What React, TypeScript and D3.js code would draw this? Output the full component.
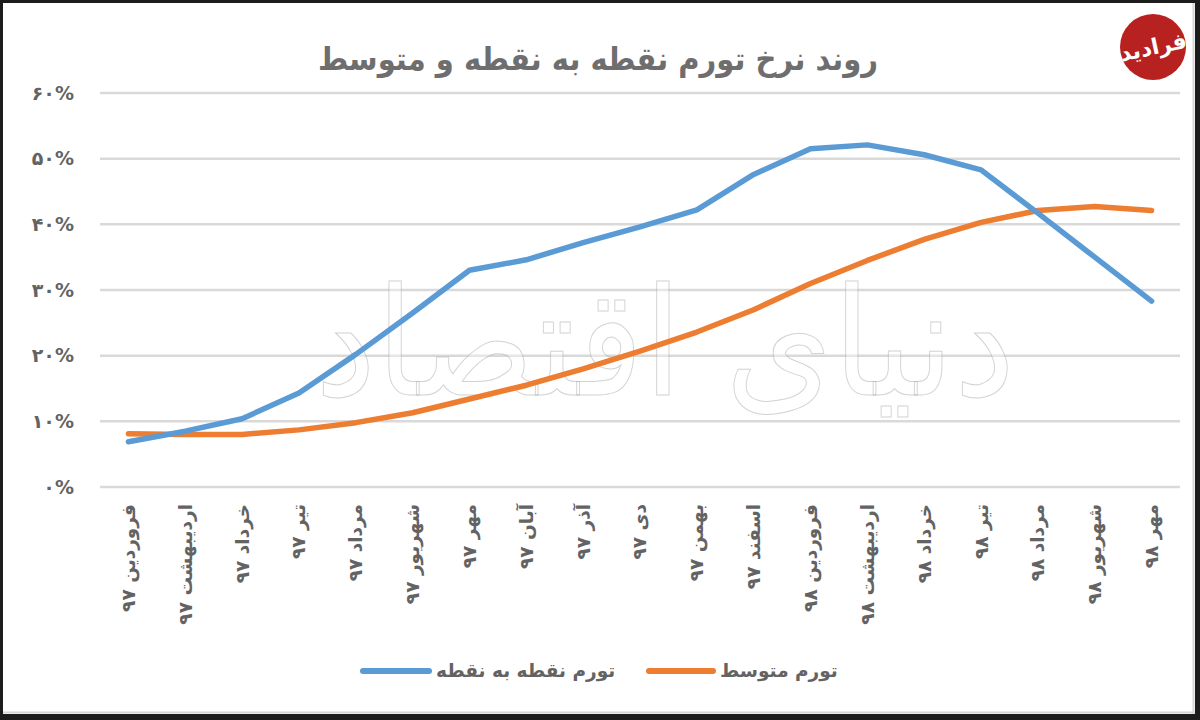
import React from "react";
import * as d3 from "d3";

const categories = [
  "فروردین ۹۷", "اردیبهشت ۹۷", "خرداد ۹۷", "تیر ۹۷", "مرداد ۹۷", "شهریور ۹۷",
  "مهر ۹۷", "آبان ۹۷", "آذر ۹۷", "دی ۹۷", "بهمن ۹۷", "اسفند ۹۷",
  "فروردین ۹۸", "اردیبهشت ۹۸", "خرداد ۹۸", "تیر ۹۸", "مرداد ۹۸", "شهریور ۹۸", "مهر ۹۸",
];

const pointToPoint = [6.9, 8.5, 10.4, 14.3, 20.2, 26.5, 33.0, 34.6, 37.2, 39.6, 42.2, 47.6, 51.5, 52.1, 50.6, 48.3, 41.7, 35.0, 28.3];
const average = [8.1, 8.0, 8.0, 8.7, 9.8, 11.3, 13.4, 15.5, 18.0, 20.7, 23.6, 27.0, 31.0, 34.5, 37.7, 40.3, 42.1, 42.7, 42.1];

const yTicks = [0, 10, 20, 30, 40, 50, 60];
const yTickLabels = ["۰%", "۱۰%", "۲۰%", "۳۰%", "۴۰%", "۵۰%", "۶۰%"];

const title = "روند نرخ تورم نقطه به نقطه و متوسط";
const seriesNames = ["تورم نقطه به نقطه", "تورم متوسط"];
const watermark = "دنیای اقتصاد";
const logoText = "فرادید";

const W = 1200;
const H = 720;
const FONT = "'DejaVu Sans', 'Noto Sans', sans-serif";
const BLUE = "#5B9BD5";
const ORANGE = "#ED7D31";
const TEXT = "#636363";

export default function App() {
  const x = d3.scalePoint<string>().domain(categories).range([100, 1180]).padding(0.5);
  const y = d3.scaleLinear().domain([0, 60]).range([487, 93]);

  const line = d3
    .line<number>()
    .x((_, i) => x(categories[i]) as number)
    .y((d) => y(d))
    .curve(d3.curveLinear);

  return (
    <div style={{ position: "fixed", left: 0, top: 0, width: W, height: H }}>
      <svg width={W} height={H} viewBox={`0 0 ${W} ${H}`} style={{ display: "block" }}>
        <rect x={0} y={0} width={W} height={H} fill="#1c1c1c" />
        <rect x={3} y={3} width={1192} height={711} fill="#ffffff" />
        <line x1={3} x2={1195} y1={712.5} y2={712.5} stroke="#d6d6d6" strokeWidth={2} />
        <line x1={1193.5} x2={1193.5} y1={3} y2={714} stroke="#d6d6d6" strokeWidth={2} />

        {/* title */}
        <text x={598} y={70} textAnchor="middle" fontFamily={FONT} fontWeight="bold" fontSize={32} fill="#6e6e6e" textLength={560} lengthAdjust="spacingAndGlyphs">
          {title}
        </text>

        {/* logo */}
        <circle cx={1153} cy={47} r={33} fill="#b7211f" />
        <text x={1153} y={47} dy="0.35em" textAnchor="middle" fontFamily={FONT} fontWeight="bold" fontSize={22} fill="#ffffff" transform="rotate(-12 1153 47)">
          {logoText}
        </text>

        {/* gridlines */}
        {yTicks.map((t) => (
          <line key={t} x1={100} x2={1180} y1={y(t)} y2={y(t)} stroke="#d9d9d9" strokeWidth={2.5} />
        ))}

        {/* y labels */}
        {yTicks.map((t, i) => (
          <text key={t} x={74} y={y(t)} dy="0.35em" textAnchor="end" fontFamily={FONT} fontWeight="bold" fontSize={19} fill={TEXT}>
            {yTickLabels[i]}
          </text>
        ))}

        {/* x labels */}
        {categories.map((c) => {
          const cx = x(c) as number;
          return (
            <text key={c} transform={`translate(${cx},504) rotate(-90)`} dy="0.35em" textAnchor="end" fontFamily={FONT} fontWeight="bold" fontSize={18.5} fill={TEXT}>
              {c}
            </text>
          );
        })}

        {/* watermark */}
        <text x={665} y={395} textAnchor="middle" fontFamily={FONT} fontSize={150} fill="#ffffff" fillOpacity={0.35} stroke="#a8a8a8" strokeOpacity={0.5} strokeWidth={1} textLength={700} lengthAdjust="spacingAndGlyphs">
          {watermark}
        </text>

        {/* lines */}
        <path d={line(average) || ""} fill="none" stroke={ORANGE} strokeWidth={5.5} strokeLinecap="round" strokeLinejoin="round" />
        <path d={line(pointToPoint) || ""} fill="none" stroke={BLUE} strokeWidth={5.5} strokeLinecap="round" strokeLinejoin="round" />

        {/* legend */}
        <line x1={363} x2={429} y1={671} y2={671} stroke={BLUE} strokeWidth={6} strokeLinecap="round" />
        <text x={436} y={671} dy="0.35em" fontFamily={FONT} fontWeight="bold" fontSize={18.5} fill={TEXT}>
          {seriesNames[0]}
        </text>
        <line x1={649} x2={713} y1={671} y2={671} stroke={ORANGE} strokeWidth={6} strokeLinecap="round" />
        <text x={720} y={671} dy="0.35em" fontFamily={FONT} fontWeight="bold" fontSize={18.5} fill={TEXT}>
          {seriesNames[1]}
        </text>
      </svg>
    </div>
  );
}
